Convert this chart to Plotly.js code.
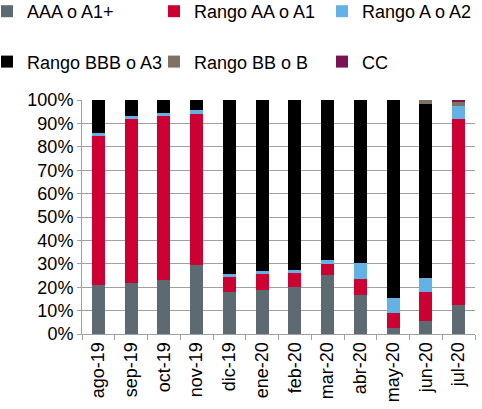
<!DOCTYPE html>
<html>
<head>
<meta charset="utf-8">
<script src="https://cdn.plot.ly/plotly-3.0.1.min.js"></script>
<style>html,body{margin:0;padding:0;background:#fff;}#chart{width:482px;height:409px;}</style>
</head>
<body>
<div id="chart"></div>
<script>
const categories = ['ago-19','sep-19','oct-19','nov-19','dic-19','ene-20','feb-20','mar-20','abr-20','may-20','jun-20','jul-20'];
const seriesNames = ['AAA o A1+','Rango AA o A1','Rango A o A2','Rango BBB o A3','Rango BB o B','CC'];
const aaa = [21.0, 22.0, 23.2, 29.4, 18.1, 18.6, 19.9, 25.2, 16.6, 2.4, 5.5, 12.5];
const aa  = [63.8, 70.0, 69.8, 64.5, 6.2, 7.0, 6.0, 4.8, 6.7, 6.4, 12.4, 79.2];
const a   = [1.3, 1.2, 1.3, 1.8, 1.4, 1.4, 1.6, 1.7, 6.9, 6.6, 6.1, 5.7];
const bbb = [13.9, 6.8, 5.7, 4.3, 74.3, 73.0, 72.5, 68.3, 69.8, 84.6, 74.3, 0];
const bb  = [0, 0, 0, 0, 0, 0, 0, 0, 0, 0, 1.7, 1.7];
const cc  = [0, 0, 0, 0, 0, 0, 0, 0, 0, 0, 0, 0.9];
const colors = ['#5e6a71','#cc0033','#63b1e5','#000000','#7f7263','#7a1253'];
const values = [aaa, aa, a, bbb, bb, cc];
const legendIds = ['legend','legend2','legend3','legend','legend2','legend3'];

const traces = values.map((v, i) => ({
  type: 'bar',
  x: categories,
  y: v,
  name: seriesNames[i],
  marker: {color: colors[i], line: {width: 0}},
  legend: legendIds[i],
  legendgroup: 'g' + i,
  hoverinfo: 'skip'
}));

const font = {family: 'Liberation Sans, Arial, sans-serif', size: 18, color: '#000'};
const M = {l: 82, r: 7, t: 100, b: 75};
const plotW = 482 - M.l - M.r, plotH = 409 - M.t - M.b;
function mkLegend(xpx, ypx) {
  return {
    orientation: 'v',
    xref: 'paper', yref: 'paper',
    xanchor: 'left', yanchor: 'top',
    x: (xpx - M.l) / plotW,
    y: (409 - M.b - ypx) / plotH,
    font: font,
    bgcolor: 'rgba(0,0,0,0)',
    borderwidth: 0,
    traceorder: 'grouped',
    tracegroupgap: 24
  };
}

const layout = {
  width: 482, height: 409,
  margin: Object.assign({autoexpand: false}, M),
  paper_bgcolor: '#fff', plot_bgcolor: '#fff',
  font: font,
  barmode: 'stack',
  bargap: 0.61,
  showlegend: true,
  legend: mkLegend(-13, -7),
  legend2: mkLegend(154, -7),
  legend3: mkLegend(322, -7),
  xaxis: {
    type: 'category',
    tickangle: -90,
    automargin: false,
    ticks: 'outside', tickson: 'boundaries', ticklen: 5, tickcolor: '#a0a0a0',
    showline: true, linecolor: '#a0a0a0', linewidth: 1,
    showgrid: false,
    tickfont: font
  },
  yaxis: {
    range: [0, 100],
    dtick: 10,
    ticksuffix: '%',
    automargin: false,
    ticks: 'outside', ticklen: 4, tickcolor: '#a0a0a0',
    showline: true, linecolor: '#a0a0a0', linewidth: 1,
    showgrid: true, gridcolor: '#a0a0a0', gridwidth: 1,
    zeroline: false,
    tickfont: font
  }
};

Plotly.newPlot('chart', traces, layout, {staticPlot: true, displayModeBar: false});
</script>
</body>
</html>
